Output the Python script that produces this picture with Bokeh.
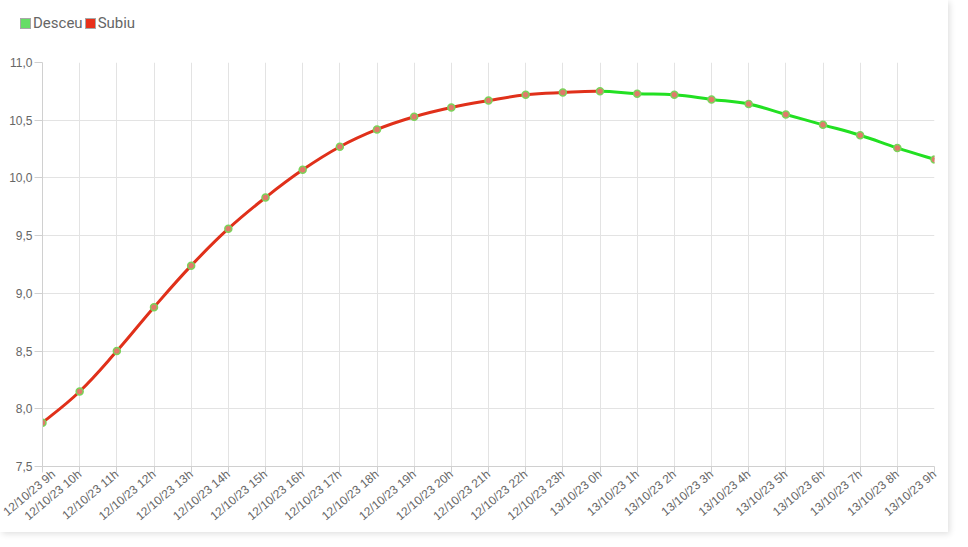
from bokeh.plotting import figure
from bokeh.models import (ColumnDataSource, FixedTicker, CustomJSTickFormatter,
                          Range1d, Div)
from bokeh.layouts import column
from bokeh.embed import file_html
from bokeh.resources import INLINE

labels = ["12/10/23 9h", "12/10/23 10h", "12/10/23 11h", "12/10/23 12h", "12/10/23 13h",
          "12/10/23 14h", "12/10/23 15h", "12/10/23 16h", "12/10/23 17h", "12/10/23 18h",
          "12/10/23 19h", "12/10/23 20h", "12/10/23 21h", "12/10/23 22h", "12/10/23 23h",
          "13/10/23 0h", "13/10/23 1h", "13/10/23 2h", "13/10/23 3h", "13/10/23 4h",
          "13/10/23 5h", "13/10/23 6h", "13/10/23 7h", "13/10/23 8h", "13/10/23 9h"]
values = [7.88, 8.15, 8.50, 8.88, 9.24, 9.56, 9.83, 10.07, 10.27, 10.42,
          10.53, 10.61, 10.67, 10.72, 10.74, 10.75, 10.73, 10.72, 10.68, 10.64,
          10.55, 10.46, 10.37, 10.26, 10.16]
series_names = ["Desceu", "Subiu"]
series_colors = ["#22e022", "#e0301a"]
legend_fill = ["#66dd66", "#e8301a"]

n = len(values)
xs = list(range(n))

W = 948
LEG_H = 44

# ---- legend strip (HTML text) ----
items_html = "".join(
    '<span style="display:inline-block;margin-right:2px;white-space:nowrap;">'
    '<span style="display:inline-block;width:11px;height:11px;border:1px solid #a8a8a8;'
    'background:%s;vertical-align:-1px;margin-right:2px;"></span>%s</span>' % (fc, name)
    for fc, name in zip(legend_fill, series_names))
legend_div = Div(text='<div style="padding:15px 0 0 20px;font-family:Roboto;font-size:15px;'
                      'color:#666666;line-height:17px;">%s</div>' % items_html,
                 width=W, height=LEG_H, margin=0)

# ---- main chart ----
fig = figure(width=W, height=532 - LEG_H, output_backend="svg", toolbar_location=None,
             x_range=Range1d(0, n - 1), y_range=Range1d(7.5, 11.0),
             min_border_left=42, min_border_right=14, min_border_top=62 - LEG_H,
             min_border_bottom=66, background_fill_color="white",
             border_fill_color="white", margin=0)
fig.outline_line_color = None

# smooth segments (cardinal spline, tension 0.4 like the original chart)
t = 0.2
seg = dict(x0=[], y0=[], x1=[], y1=[], cx0=[], cy0=[], cx1=[], cy1=[], color=[])
for i in range(n - 1):
    pm = max(i - 1, 0)
    pn = min(i + 2, n - 1)
    seg["x0"].append(xs[i]); seg["y0"].append(values[i])
    seg["x1"].append(xs[i + 1]); seg["y1"].append(values[i + 1])
    seg["cx0"].append(xs[i] + t * (xs[i + 1] - xs[pm]))
    seg["cy0"].append(values[i] + t * (values[i + 1] - values[pm]))
    seg["cx1"].append(xs[i + 1] - t * (xs[pn] - xs[i]))
    seg["cy1"].append(values[i + 1] - t * (values[pn] - values[i]))
    seg["color"].append(series_colors[1] if values[i + 1] >= values[i] else series_colors[0])
fig.bezier(x0="x0", y0="y0", x1="x1", y1="y1", cx0="cx0", cy0="cy0", cx1="cx1", cy1="cy1",
           line_color="color", line_width=3, source=ColumnDataSource(seg))

fig.scatter(xs, values, size=7, fill_color="#e07a6a", line_color="#7ad35a", line_width=1.5)

fig.xaxis.ticker = FixedTicker(ticks=xs)
fig.xaxis.major_label_overrides = {i: lab for i, lab in enumerate(labels)}
fig.xaxis.major_label_orientation = 0.7
fig.yaxis.ticker = FixedTicker(ticks=[7.5, 8.0, 8.5, 9.0, 9.5, 10.0, 10.5, 11.0])
fig.yaxis.formatter = CustomJSTickFormatter(code="return tick.toFixed(1).replace('.', ',');")
for ax in (fig.xaxis, fig.yaxis):
    ax.axis_line_color = "#d0d0d0"
    ax.major_tick_line_color = "#d0d0d0"
    ax.major_tick_out = 8
    ax.major_tick_in = 0
    ax.minor_tick_line_color = None
    ax.major_label_text_font = "Liberation Sans"
    ax.major_label_text_font_size = "12px"
    ax.major_label_text_color = "#666666"
    ax.major_label_standoff = 2
fig.xaxis.major_tick_out = 6
fig.xaxis.major_label_standoff = 0
fig.grid.grid_line_color = "#e3e3e3"

page = column(legend_div, fig, spacing=0)
page.styles = {"box-shadow": "2px 2px 6px rgba(0,0,0,0.12)", "background": "white"}

open("out.html", "w").write(file_html(page, INLINE))
